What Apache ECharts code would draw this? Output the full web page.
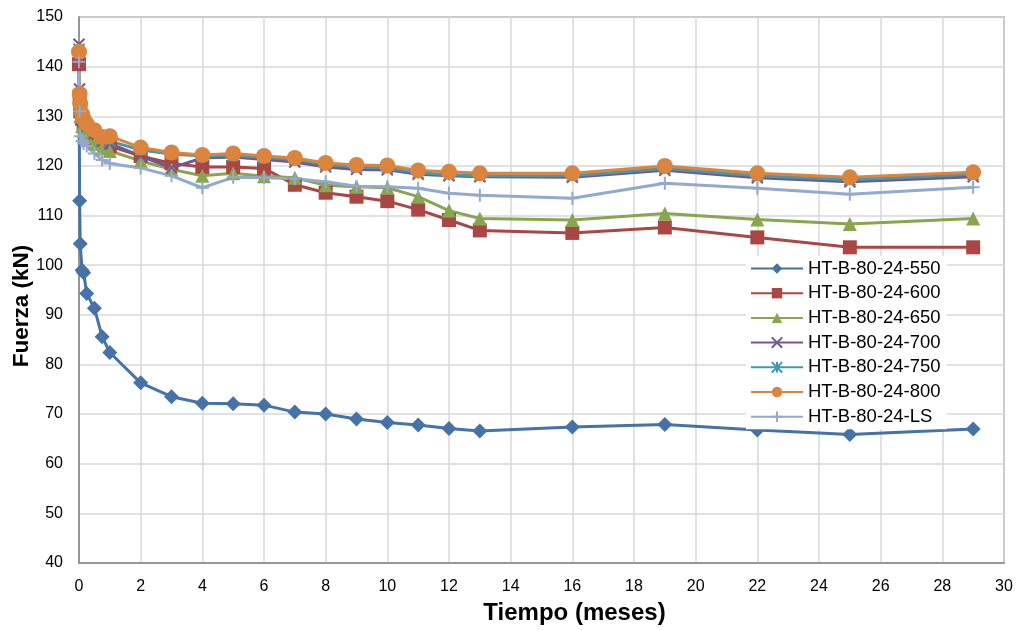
<!DOCTYPE html>
<html>
<head>
<meta charset="utf-8">
<script src="https://cdn.jsdelivr.net/npm/echarts@6/dist/echarts.min.js"></script>
<style>html,body{margin:0;padding:0;background:#fff}#c{width:1018px;height:630px}</style>
</head>
<body>
<div id="c"></div>
<script>
const tiempo = [0, 0.02, 0.04, 0.1, 0.15, 0.25, 0.5, 0.75, 1, 2, 3, 4, 5, 6, 7, 8, 9, 10, 11, 12, 13, 16, 19, 22, 25, 29];
const s550 = [142.5, 113, 104.3, 99, 98.5, 94.3, 91.3, 85.6, 82.4, 76.3, 73.5, 72.2, 72.1, 71.8, 70.4, 70.0, 69.0, 68.3, 67.8, 67.1, 66.6, 67.4, 67.9, 66.8, 65.9, 67.0];
const s600 = [140.5, 134, 131, 129.5, 128.5, 127, 125.5, 124.5, 124, 122, 120.5, 119.8, 119.8, 119.5, 116.2, 114.6, 113.8, 112.9, 111.2, 109.1, 107.0, 106.5, 107.6, 105.6, 103.6, 103.6];
const s650 = [144, 133, 130, 128, 127, 126, 124.5, 123.5, 123, 121, 119.3, 118, 118.5, 117.9, 117.6, 116.1, 115.8, 115.6, 113.8, 111.0, 109.4, 109.1, 110.4, 109.2, 108.3, 109.4];
const s700 = [144.5, 135.5, 132, 130, 129, 128, 126.5, 125, 124.5, 122, 119.6, 121.6, 121.8, 121.3, 120.8, 119.8, 119.3, 119.2, 118.3, 118.0, 117.8, 117.7, 119.1, 117.6, 116.8, 117.8];
const s750 = [143.5, 134.5, 132, 130, 129, 128.3, 127, 125.3, 125, 123.2, 122.4, 122.0, 122.1, 121.7, 121.3, 120.3, 119.8, 119.6, 118.6, 118.2, 118.0, 118.0, 119.5, 118.0, 117.2, 118.3];
const s800 = [143, 134.5, 132.5, 130.5, 129.5, 128.5, 127.2, 125.8, 126, 123.7, 122.7, 122.2, 122.5, 122.0, 121.6, 120.6, 120.2, 120.1, 119.1, 118.8, 118.5, 118.5, 120.0, 118.5, 117.7, 118.7];
const sLS  = [141, 131, 126, 125, 124.5, 124, 122.5, 121.2, 120.5, 119.6, 118.0, 115.6, 117.7, 117.6, 117.4, 116.8, 115.9, 115.8, 115.5, 114.5, 114.1, 113.5, 116.5, 115.5, 114.3, 115.7];
const names = ['HT-B-80-24-550','HT-B-80-24-600','HT-B-80-24-650','HT-B-80-24-700','HT-B-80-24-750','HT-B-80-24-800','HT-B-80-24-LS'];

const colors = ['#4572A7','#AA4643','#89A54E','#71588F','#4198AF','#DB843D','#93A9CF'];
const symbols = ['diamond','rect','triangle',
  'path://M0,0L10,10M10,0L0,10',
  'path://M5,0L5,10M0,0L10,10M10,0L0,10',
  'circle',
  'path://M5,0L5,10M0,5L10,5'];
const sizes = [15, 14, 14, 11, 11, 16, 13];
const all = [s550, s600, s650, s700, s750, s800, sLS];

const series = all.map((vals, i) => {
  const strokeOnly = i === 3 || i === 4 || i === 6;
  return {
    name: names[i],
    type: 'line',
    data: tiempo.map((t, k) => [t, vals[k]]),
    symbol: symbols[i],
    symbolSize: sizes[i],
    showSymbol: true,
    lineStyle: { color: colors[i], width: 3 },
    itemStyle: strokeOnly
      ? { color: colors[i], borderColor: colors[i], borderWidth: 2 }
      : { color: colors[i], borderWidth: 0 },
    emphasis: { disabled: true },
    animation: false
  };
});

const chart = echarts.init(document.getElementById('c'), null, { renderer: 'canvas' });
chart.setOption({
  backgroundColor: '#fff',
  animation: false,
  color: colors,
  grid: { left: 79, right: 14, top: 17, bottom: 67, show: true, borderColor: '#868686', borderWidth: 1.5,
          containLabel: false, outerBoundsMode: 'none' },
  xAxis: {
    type: 'value', min: 0, max: 30, interval: 2,
    name: 'Tiempo (meses)', nameLocation: 'middle', nameGap: 38, nameMoveOverlap: false,
    nameTextStyle: { fontFamily: 'Liberation Sans', fontWeight: 'bold', fontSize: 24, color: '#000', padding: [0, 0, 0, 66] },
    axisLine: { show: true, lineStyle: { color: '#868686', width: 1.5 } },
    axisTick: { show: false },
    axisLabel: { fontFamily: 'Liberation Sans', fontSize: 16, color: '#000', margin: 16 },
    splitLine: { show: true, lineStyle: { color: '#d9d9d9', width: 1.5 } }
  },
  yAxis: {
    type: 'value', min: 40, max: 150, interval: 10,
    name: 'Fuerza (kN)', nameLocation: 'middle', nameGap: 46, nameRotate: 90, nameMoveOverlap: false,
    nameTextStyle: { fontFamily: 'Liberation Sans', fontWeight: 'bold', fontSize: 22.5, color: '#000', padding: [0, 32, 0, 0] },
    axisLine: { show: true, lineStyle: { color: '#868686', width: 1.5 } },
    axisTick: { show: false },
    axisLabel: { fontFamily: 'Liberation Sans', fontSize: 16, color: '#000', margin: 16 },
    splitLine: { show: true, lineStyle: { color: '#d9d9d9', width: 1.5 } }
  },
  legend: {
    orient: 'vertical', left: 746, top: 256,
    backgroundColor: '#fff',
    padding: [3, 6, 3, 4],
    itemWidth: 52, itemHeight: 13, itemGap: 5.7,
    textStyle: { fontFamily: 'Liberation Sans', fontSize: 18.5, color: '#000' },
    data: names
  },
  series: series
});
</script>
</body>
</html>
